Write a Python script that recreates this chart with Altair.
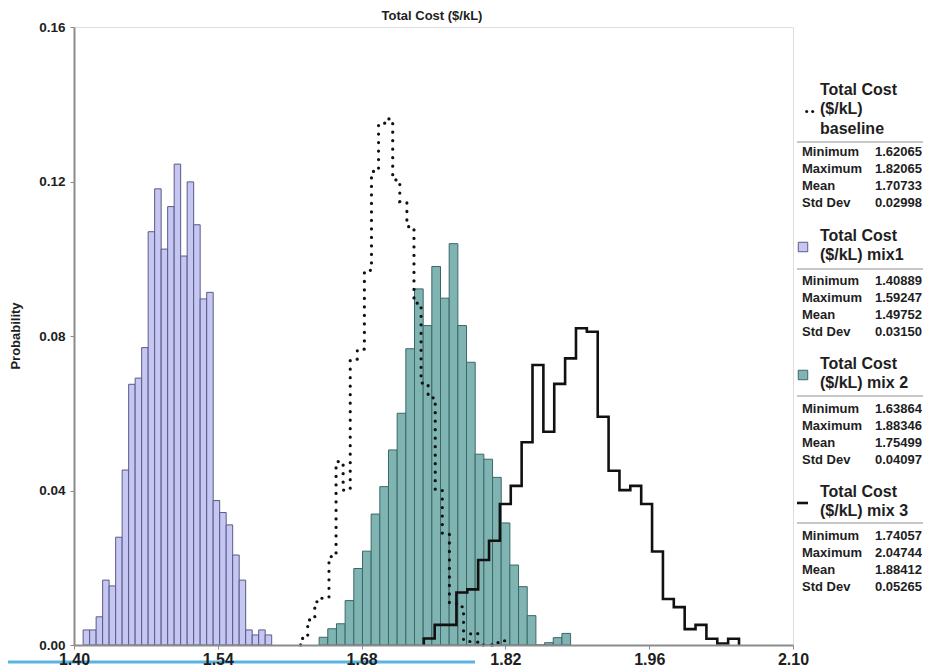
import altair as alt
import pandas as pd

# ---------------- data ----------------
x_ticks = [1.40, 1.54, 1.68, 1.82, 1.96, 2.10]
y_ticks = [0.00, 0.04, 0.08, 0.12, 0.16]

series_names = ["Total Cost ($/kL) baseline", "Total Cost ($/kL) mix1",
                "Total Cost ($/kL) mix 2", "Total Cost ($/kL) mix 3"]

# each series: 29 equal-width bins between its minimum and maximum
baseline_min, baseline_max = 1.62065, 1.82065
baseline_prob = [0.0017, 0.0065, 0.0112, 0.0121, 0.0229, 0.0475, 0.0401, 0.0740,
                 0.0766, 0.0970, 0.1226, 0.1351, 0.1362, 0.1204, 0.1148, 0.1083,
                 0.0885, 0.0678, 0.0640, 0.0401, 0.0289, 0.0108, 0.0099, 0.0009,
                 0.0031, 0.0000, 0.0000, 0.0006, 0.0011]

mix1_min, mix1_max = 1.40889, 1.59247
mix1_prob = [0.0039, 0.0039, 0.0073, 0.0168, 0.0153, 0.0279, 0.0453, 0.0675,
             0.0691, 0.0770, 0.1070, 0.1181, 0.1025, 0.1135, 0.1245, 0.1007,
             0.1199, 0.1088, 0.0896, 0.0913, 0.0374, 0.0343, 0.0311, 0.0233,
             0.0168, 0.0039, 0.0026, 0.0039, 0.0026]

mix2_min, mix2_max = 1.63864, 1.88346
mix2_prob = [0.0020, 0.0042, 0.0055, 0.0115, 0.0198, 0.0243, 0.0339, 0.0410,
             0.0505, 0.0600, 0.0767, 0.0922, 0.0827, 0.0980, 0.0898, 0.1039,
             0.0827, 0.0732, 0.0494, 0.0481, 0.0434, 0.0316, 0.0207, 0.0151,
             0.0076, 0.0000, 0.0006, 0.0019, 0.0030]

mix3_min, mix3_max = 1.74057, 2.04744
mix3_prob = [0.0017, 0.0052, 0.0052, 0.0136, 0.0144, 0.0220, 0.0270, 0.0365,
             0.0412, 0.0525, 0.0725, 0.0552, 0.0676, 0.0742, 0.0820, 0.0811,
             0.0591, 0.0451, 0.0401, 0.0412, 0.0365, 0.0242, 0.0119, 0.0098,
             0.0041, 0.0052, 0.0016, 0.0004, 0.0016]

stat_labels = ["Minimum", "Maximum", "Mean", "Std Dev"]
baseline_stats = ["1.62065", "1.82065", "1.70733", "0.02998"]
mix1_stats = ["1.40889", "1.59247", "1.49752", "0.03150"]
mix2_stats = ["1.63864", "1.88346", "1.75499", "0.04097"]
mix3_stats = ["1.74057", "2.04744", "1.88412", "0.05265"]

legend_titles = [["Total Cost", "($/kL)", "baseline"],
                 ["Total Cost", "($/kL) mix1"],
                 ["Total Cost", "($/kL) mix 2"],
                 ["Total Cost", "($/kL) mix 3"]]

# ---------------- styling ----------------
W, H = 719, 618
FONT = "Liberation Sans, Arial, sans-serif"
LAV_FILL, LAV_STROKE = "#c6c6f2", "#5a5a86"
TEAL_FILL, TEAL_STROKE = "#7fb4b2", "#3b6866"
TEXT = "#1e1e1e"


def bins(lo, hi, probs):
    n = len(probs)
    w = (hi - lo) / n
    return pd.DataFrame({"x0": [lo + i * w for i in range(n)],
                         "x1": [lo + (i + 1) * w for i in range(n)],
                         "p": probs})


def steps(lo, hi, probs):
    n = len(probs)
    w = (hi - lo) / n
    xs = [lo] + [lo + i * w for i in range(n)] + [hi, hi]
    ps = [0.0] + list(probs) + [probs[-1], 0.0]
    return pd.DataFrame({"x": xs, "p": ps, "i": list(range(len(xs)))})


xscale = alt.Scale(domain=[1.40, 2.10], nice=False, zero=False)
yscale = alt.Scale(domain=[0.0, 0.16], nice=False)

xaxis = alt.Axis(values=x_ticks, format=".2f", title="", grid=False, zindex=1,
                 labelFont=FONT, labelFontSize=16, labelFontWeight="bold",
                 labelColor=TEXT, labelPadding=2, domainColor="#8c8c8c",
                 domainWidth=2, tickColor="#8c8c8c", tickSize=4, labelFlush=False)
yaxis = alt.Axis(values=y_ticks, format=".2f", title="", grid=False, zindex=1,
                 labelFont=FONT, labelFontSize=13.5, labelFontWeight="bold",
                 labelColor=TEXT, labelPadding=5, domainColor="#8c8c8c",
                 domainWidth=2, tickColor="#8c8c8c", tickSize=4, labelFlush=False)

mix1_bars = alt.Chart(bins(mix1_min, mix1_max, mix1_prob)).mark_bar(
    fill=LAV_FILL, stroke=LAV_STROKE, strokeWidth=1).encode(
    x=alt.X("x0:Q", scale=xscale, axis=xaxis), x2="x1:Q",
    y=alt.Y("p:Q", scale=yscale, axis=yaxis), y2=alt.datum(0))

mix2_bars = alt.Chart(bins(mix2_min, mix2_max, mix2_prob)).mark_bar(
    fill=TEAL_FILL, stroke=TEAL_STROKE, strokeWidth=1).encode(
    x=alt.X("x0:Q", scale=xscale, axis=xaxis), x2="x1:Q",
    y=alt.Y("p:Q", scale=yscale, axis=yaxis), y2=alt.datum(0))

baseline_line = alt.Chart(steps(baseline_min, baseline_max, baseline_prob)).mark_line(
    interpolate="step-after", color="#111111", strokeWidth=3.2, strokeCap="round",
    strokeDash=[0.1, 8.4]).encode(
    x=alt.X("x:Q", scale=xscale), y=alt.Y("p:Q", scale=yscale), order="i:Q")

mix3_line = alt.Chart(steps(mix3_min, mix3_max, mix3_prob)).mark_line(
    interpolate="step-after", color="#111111", strokeWidth=2.6).encode(
    x=alt.X("x:Q", scale=xscale), y=alt.Y("p:Q", scale=yscale), order="i:Q")

layers = [mix1_bars, mix2_bars, baseline_line, mix3_line]

# chart-relative coordinates = page coordinates minus plot origin (74, 27)
OX, OY = 74, 27


def txt(text, px, py, size, align="left", angle=0, weight="bold", lh=None):
    kw = dict(font=FONT, fontSize=size, fontWeight=weight, color=TEXT,
              align=align, baseline="middle", angle=angle)
    if lh is not None:
        kw["lineHeight"] = lh
    return alt.Chart().mark_text(**kw).encode(
        x=alt.value(px - OX), y=alt.value(py - OY), text=alt.value(text))


def hrule(x1, x2, py, color, width, dash=None):
    kw = dict(color=color, strokeWidth=width)
    if dash is not None:
        kw["strokeDash"] = dash
    return alt.Chart().mark_rule(**kw).encode(
        x=alt.value(x1 - OX), x2=alt.value(x2 - OX), y=alt.value(py - OY))


# light blue strip at the bottom left of the picture (drawn first, under the labels)
layers.insert(0, hrule(8, 475, 662, "#5ab4e0", 3))

# titles
layers.append(txt("Total Cost ($/kL)", 432, 16, 13, align="center"))
layers.append(txt("Probability", 15.5, 336, 13, align="center", angle=270))

# legend blocks: (title top y, separator y, first stat row y)
blocks = [(90, 142, 152), (236, 269, 280.5), (363.5, 396, 408.5), (491.5, 523, 536)]
stats = [baseline_stats, mix1_stats, mix2_stats, mix3_stats]
for k, (ty, sy, ry) in enumerate(blocks):
    layers.append(txt(legend_titles[k], 820, ty, 16, lh=19.3))
    layers.append(hrule(797, 924, sy, "#b4b4b4", 1.5))
    layers.append(txt(stat_labels, 802, ry, 13, lh=17))
    layers.append(txt(stats[k], 922, ry, 13, align="right", lh=17))

# legend symbols
for dx in (806.7, 812.7):
    layers.append(alt.Chart().mark_point(shape="circle", filled=True, size=9, color="#111111",
                                         opacity=1).encode(
        x=alt.value(dx - OX), y=alt.value(111.5 - OY)))
layers.append(alt.Chart().mark_point(shape="square", filled=True, size=90, fill=LAV_FILL,
                                     stroke=LAV_STROKE, strokeWidth=1, opacity=1).encode(
    x=alt.value(803 - OX), y=alt.value(247 - OY)))
layers.append(alt.Chart().mark_point(shape="square", filled=True, size=90, fill=TEAL_FILL,
                                     stroke=TEAL_STROKE, strokeWidth=1, opacity=1).encode(
    x=alt.value(803 - OX), y=alt.value(375 - OY)))
layers.append(hrule(797, 808, 503, "#111111", 2.6))

chart = alt.layer(*layers).properties(
    width=W, height=H,
    autosize=alt.AutoSizeParams(type="none"),
    padding={"left": 66, "top": 19, "right": 130, "bottom": 30},
).configure_view(fill="#f3f3f3", strokeWidth=0).configure(background="white")

chart.save("out.html", embed_options={"renderer": "svg", "actions": False})
